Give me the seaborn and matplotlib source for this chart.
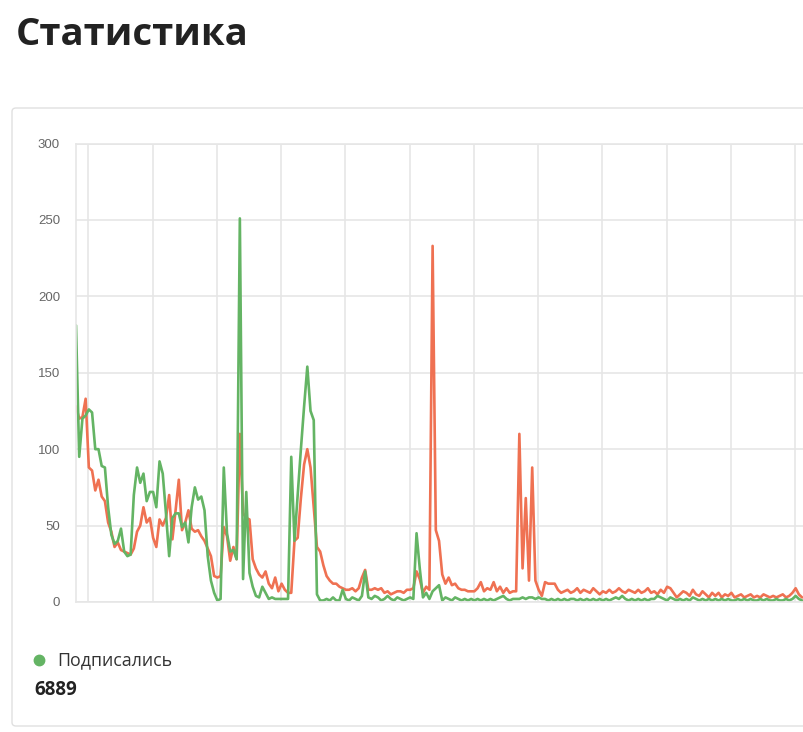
import numpy as np
import pandas as pd
import matplotlib
matplotlib.use('Agg')
import matplotlib.pyplot as plt
from matplotlib.patches import FancyBboxPatch
from matplotlib.lines import Line2D
import seaborn as sns

# daily values
subscribed = [
    181, 95, 120, 122, 126, 124, 100, 100, 89, 88,
    62, 44, 38, 40, 48, 33, 30, 31, 70, 88,
    78, 84, 66, 72, 72, 62, 92, 84, 58, 30,
    55, 58, 58, 49, 52, 39, 62, 75, 67, 69,
    60, 30, 14, 6, 1, 2, 88, 45, 33, 34,
    28, 251, 15, 72, 19, 10, 4, 3, 10, 6,
    2, 3, 2, 2, 2, 2, 2, 95, 40, 70,
    100, 128, 154, 125, 119, 5, 1, 1, 2, 1,
    3, 1, 1, 8, 2, 1, 3, 2, 1, 4,
    20, 3, 2, 4, 3, 1, 2, 4, 2, 1,
    3, 2, 1, 2, 3, 2, 45, 22, 3, 6,
    2, 7, 9, 11, 1, 3, 2, 1, 3, 2,
    1, 2, 1, 2, 1, 2, 1, 2, 1, 2,
    1, 2, 3, 4, 2, 1, 2, 2, 2, 3,
    2, 3, 3, 2, 3, 2, 2, 1, 2, 1,
    2, 1, 2, 1, 2, 2, 1, 2, 1, 2,
    1, 2, 1, 2, 1, 2, 1, 2, 3, 2,
    4, 2, 1, 2, 1, 2, 1, 2, 1, 2,
    2, 4, 3, 2, 1, 3, 2, 1, 2, 1,
    2, 1, 3, 2, 1, 2, 1, 2, 1, 2,
    1, 2, 1, 2, 1, 1, 2, 1, 2, 1,
    2, 1, 1, 2, 1, 2, 1, 1, 2, 1,
    1, 2, 1, 2, 4, 2, 1,
]
unsubscribed = [
    128, 120, 121, 133, 88, 86, 73, 80, 69, 66,
    52, 46, 36, 39, 34, 33, 32, 31, 35, 46,
    50, 62, 52, 55, 42, 36, 54, 50, 55, 70,
    41, 60, 80, 47, 52, 60, 48, 46, 47, 43,
    40, 35, 30, 17, 16, 17, 49, 43, 27, 36,
    28, 110, 58, 55, 54, 28, 22, 18, 16, 20,
    12, 9, 16, 7, 12, 8, 6, 6, 40, 42,
    68, 90, 100, 88, 62, 36, 33, 24, 17, 14,
    12, 12, 10, 9, 8, 8, 9, 7, 9, 16,
    21, 8, 8, 9, 8, 9, 6, 7, 5, 6,
    7, 7, 6, 8, 8, 9, 20, 15, 6, 10,
    8, 233, 47, 40, 18, 12, 16, 11, 12, 9,
    8, 8, 7, 7, 7, 9, 13, 7, 9, 8,
    13, 7, 10, 6, 9, 6, 7, 7, 110, 22,
    68, 14, 88, 14, 8, 4, 13, 12, 12, 12,
    8, 6, 7, 8, 6, 7, 9, 6, 8, 7,
    6, 9, 7, 5, 7, 6, 8, 6, 7, 9,
    7, 6, 8, 7, 6, 8, 6, 7, 9, 6,
    7, 5, 8, 6, 10, 9, 6, 3, 5, 7,
    6, 4, 8, 5, 4, 7, 5, 3, 6, 4,
    6, 3, 5, 4, 6, 3, 4, 5, 3, 4,
    5, 3, 4, 3, 5, 4, 3, 4, 3, 4,
    5, 3, 4, 6, 9, 5, 3,
]
days = list(range(len(subscribed)))
y_ticks = [0, 50, 100, 150, 200, 250, 300]

title = 'Статистика'
legend_label = 'Подписались'
total_subscribed = '6889'

GREEN = '#64b464'
ORANGE = '#ef7152'
GRID = '#e6e6e6'

df = pd.DataFrame({'day': days, 'Подписались': subscribed, 'Отписались': unsubscribed})

sns.set_style('white')
plt.rcParams['font.family'] = ['Open Sans', 'DejaVu Sans']

W, H = 804, 732
fig = plt.figure(figsize=(W / 100, H / 100), dpi=100)


def fx(px):
    return px / W


def fy(py):
    return 1 - py / H


# card frame around the chart, kept behind the axes
card = FancyBboxPatch((fx(12), fy(726)), fx(900) - fx(12), fy(108) - fy(726),
                      boxstyle='round,pad=0,rounding_size=0.005',
                      transform=fig.transFigure, facecolor='white',
                      edgecolor='#e0e0e0', linewidth=1.0, zorder=-5)
fig.patches.append(card)

fig.text(fx(16), fy(45), title, fontsize=27.5, fontweight='bold', color='#222222', va='baseline')

ax = fig.add_axes([fx(76), fy(602), fx(804) - fx(76), fy(143.5) - fy(602)], zorder=2)
ax.patch.set_alpha(0)
sns.lineplot(data=df, x='day', y='Отписались', color=ORANGE, linewidth=1.9, ax=ax)
sns.lineplot(data=df, x='day', y='Подписались', color=GREEN, linewidth=1.9, ax=ax)

ax.set_xlim(0, 226.6)
ax.set_ylim(0, 300)
ax.set_yticks(y_ticks)
ax.set_xticks(np.arange(3.83, 227, 20))
ax.set_xticklabels([])
ax.set_xlabel('')
ax.set_ylabel('')
ax.set_axisbelow(True)
ax.grid(True, color=GRID, linewidth=1.2)
ax.tick_params(axis='both', length=8, width=1.1, color=GRID, pad=3.5)
ax.tick_params(axis='y', labelsize=9.5, labelcolor='#666666')
for lab in ax.get_yticklabels():
    lab.set_family(['Liberation Sans', 'DejaVu Sans'])
for side in ['left', 'bottom', 'top']:
    ax.spines[side].set_color(GRID)
    ax.spines[side].set_linewidth(1.2)
ax.spines['right'].set_visible(False)

# legend below chart
fig.add_artist(Line2D([fx(39.5)], [fy(660)], marker='o', markersize=7.5, color=GREEN,
                      linestyle='none', transform=fig.transFigure))
fig.text(fx(57), fy(665), legend_label, fontsize=12.8, color='#333333', va='baseline')
fig.text(fx(34), fy(695), total_subscribed, fontsize=13.5, fontweight='bold', color='#222222', va='baseline')

fig.savefig('out.png', dpi=100)
